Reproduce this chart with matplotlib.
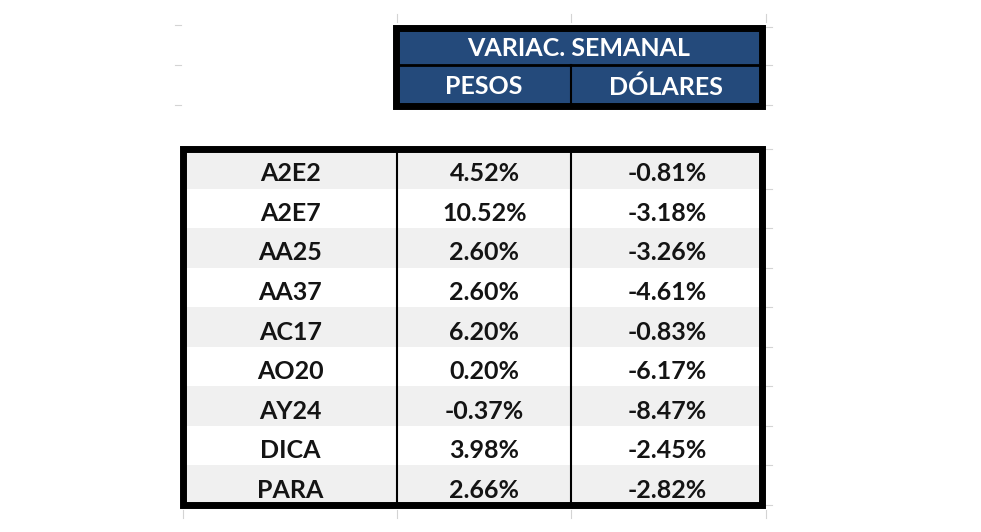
import matplotlib
matplotlib.use("Agg")
import matplotlib.pyplot as plt
from matplotlib.patches import Rectangle

# datos
bonos = ["A2E2", "A2E7", "AA25", "AA37", "AC17", "AO20", "AY24", "DICA", "PARA"]
pesos = [4.52, 10.52, 2.60, 2.60, 6.20, 0.20, -0.37, 3.98, 2.66]
dolares = [-0.81, -3.18, -3.26, -4.61, -0.83, -6.17, -8.47, -2.45, -2.82]
titulo = "VARIAC. SEMANAL"
subtitulos = ["PESOS", "DÓLARES"]

plt.rcParams['font.family'] = ['Lato', 'DejaVu Sans']

W, H = 981, 532
fig = plt.figure(figsize=(W / 100, H / 100), dpi=100)
ax = fig.add_axes([0, 0, 1, 1])
ax.set_xlim(0, W)
ax.set_ylim(H, 0)
ax.axis('off')

azul = '#244a7b'
gris = '#f0f0f0'
grid = '#d4d4d4'
fs = 18

# columnas de la hoja (px)
cols = [182.5, 396.5, 570.5, 761.5]
top, bottom = 149, 505
alto = (bottom - top) / len(bonos)

# restos de la grilla de excel
for y in [25, 65, 105]:
    ax.plot([175, 181], [y, y], color=grid, lw=0.8)
for y in [27, 65, 105] + [top + alto * k for k in range(len(bonos) + 1)]:
    ax.plot([766, 772], [y, y], color=grid, lw=0.8)
for x in [397, 571, 766]:
    ax.plot([x, x], [14, 22], color=grid, lw=0.8)
for x in [183, 397, 571, 766]:
    ax.plot([x, x], [510, 518], color=grid, lw=0.8)

# encabezado
hx0, hx1, hy0, hy1 = 396, 761.5, 27.5, 105.5
hmid = 64.5
ax.add_patch(Rectangle((hx0, hy0), hx1 - hx0, hy1 - hy0, facecolor=azul,
                       edgecolor='black', lw=5, zorder=3))
ax.plot([hx0, hx1], [hmid, hmid], color='black', lw=2, zorder=3)
ax.plot([cols[2], cols[2]], [hmid, hy1], color='black', lw=1.5, zorder=3)
ax.text((hx0 + hx1) / 2, (hy0 + hmid) / 2 + 3, titulo, color='white',
        fontsize=fs, fontweight='bold', ha='center', va='center', zorder=4)
for j, s in enumerate(subtitulos):
    ax.text((cols[j + 1] + cols[j + 2]) / 2, (hmid + hy1) / 2 + 2, s, color='white',
            fontsize=fs, fontweight='bold', ha='center', va='center', zorder=4)

# tabla
for i, b in enumerate(bonos):
    y0 = top + alto * i
    if i % 2 == 0:
        ax.add_patch(Rectangle((cols[0], y0), cols[3] - cols[0], alto,
                               facecolor=gris, edgecolor='none', zorder=1))
    yc = y0 + alto / 2 + 5
    vals = [b, f"{pesos[i]:.2f}%", f"{dolares[i]:.2f}%"]
    for j, v in enumerate(vals):
        ax.text((cols[j] + cols[j + 1]) / 2 + 1, yc, v, color='#141414',
                fontsize=fs, fontweight='bold', ha='center', va='center', zorder=4)

for x in cols[1:3]:
    ax.plot([x, x], [top, bottom], color='black', lw=1.5, zorder=3)
ax.add_patch(Rectangle((cols[0], top), cols[3] - cols[0], bottom - top,
                       facecolor='none', edgecolor='black', lw=5, zorder=3))

fig.savefig('out.png', dpi=100, facecolor='white')
